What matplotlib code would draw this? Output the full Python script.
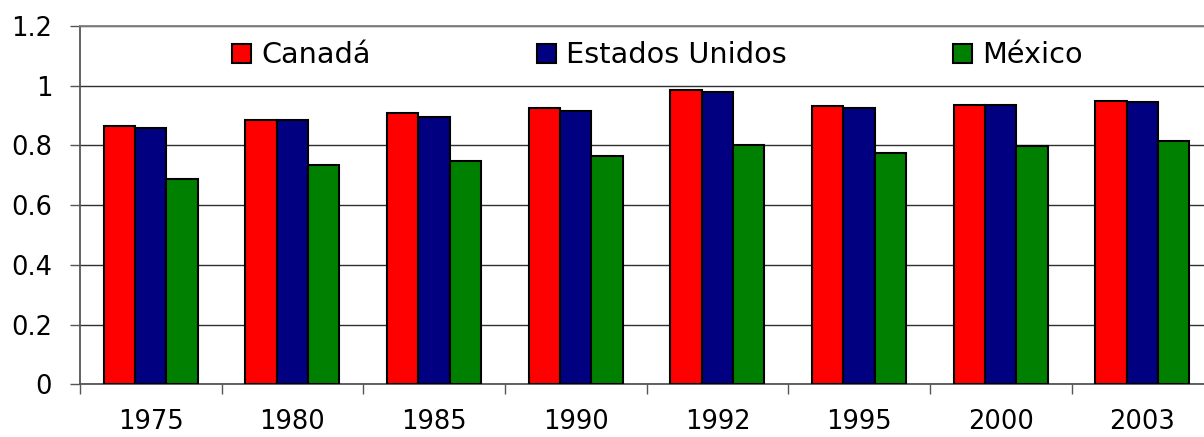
import numpy as np
import matplotlib.pyplot as plt

plt.rcParams['font.family'] = ['DejaVu Sans']

years = ['1975', '1980', '1985', '1990', '1992', '1995', '2000', '2003']
canada = [0.866, 0.884, 0.907, 0.924, 0.984, 0.931, 0.937, 0.948]
usa = [0.860, 0.884, 0.896, 0.914, 0.978, 0.925, 0.937, 0.944]
mexico = [0.687, 0.734, 0.749, 0.764, 0.803, 0.774, 0.797, 0.814]
series = ['Canadá', 'Estados Unidos', 'México']
colors = ['#ff0000', '#000080', '#008000']
ytick_vals = [0, 0.2, 0.4, 0.6, 0.8, 1.0, 1.2]
ytick_labels = ['0', '0.2', '0.4', '0.6', '0.8', '1', '1.2']

fig = plt.figure(figsize=(12.04, 4.37), dpi=100)
# right edge of the plot runs past the picture, like the reference
ax = fig.add_axes([0.0664, 0.1206, 0.9413, 0.8199])

x = np.arange(len(years))
w = 0.221
for i, (vals, name, c) in enumerate(zip([canada, usa, mexico], series, colors)):
    ax.bar(x + (i - 1) * w, vals, w, color=c, edgecolor='black',
           linewidth=1.5, label=name, zorder=3)

ax.set_xlim(-0.5, len(years) - 0.5)
ax.set_ylim(0, 1.2)

ax.set_yticks(ytick_vals)
ax.set_yticklabels(ytick_labels, fontsize=18.5)
ax.yaxis.grid(True, color='#303030', linewidth=1.0, zorder=0)
ax.tick_params(axis='y', length=7, width=1, color='#555555', pad=13)

ax.set_xticks(x)
ax.set_xticklabels(years, fontsize=18.5)
ax.set_xticks(np.arange(len(years) + 1) - 0.5, minor=True)
ax.tick_params(axis='x', which='major', length=0, pad=18)
ax.tick_params(axis='x', which='minor', length=7, width=1, color='#555555')

for s in ['left', 'bottom']:
    ax.spines[s].set_color('#555555')
    ax.spines[s].set_linewidth(1.3)
ax.spines['top'].set_color('#808080')
ax.spines['top'].set_linewidth(1.3)
ax.spines['right'].set_visible(False)

fig.legend(loc='center', bbox_to_anchor=(0.546, 0.873), ncol=3, frameon=False,
           fontsize=20.7, handlelength=0.68, handleheight=0.68, handletextpad=0.35,
           columnspacing=5.76)

plt.savefig('out.png', dpi=100)
